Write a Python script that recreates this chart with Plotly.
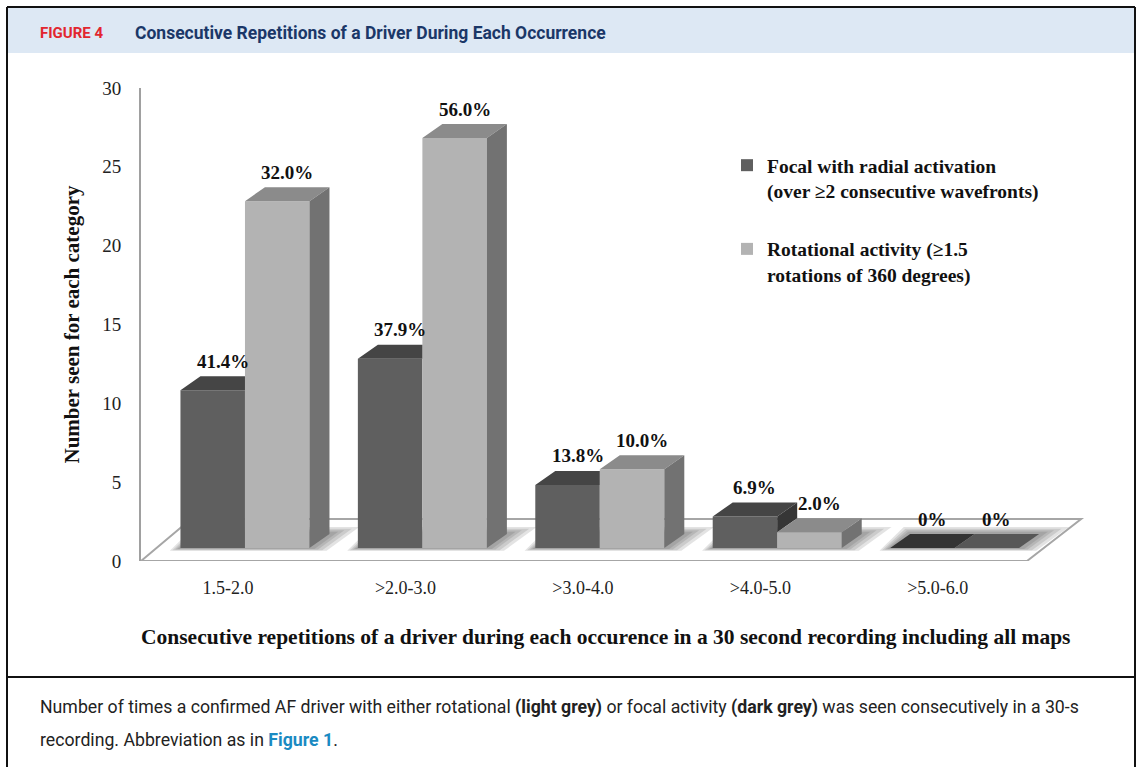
import plotly.graph_objects as go

# ---------------- data ----------------
categories = ["1.5-2.0", ">2.0-3.0", ">3.0-4.0", ">4.0-5.0", ">5.0-6.0"]
focal_counts = [10, 12, 4, 2, 0]
rotational_counts = [22, 26, 5, 1, 0]
focal_pct = ["41.4%", "37.9%", "13.8%", "6.9%", "0%"]
rotational_pct = ["32.0%", "56.0%", "10.0%", "2.0%", "0%"]
series_names = ["Focal with radial activation<br>(over \u22652 consecutive wavefronts)",
                "Rotational activity (\u22651.5<br>rotations of 360 degrees)"]
y_ticks = [0, 5, 10, 15, 20, 25, 30]

# ---------------- styling / geometry ----------------
W = 0.3636          # bar width (category units)
DX = 0.1127         # 3D depth offset in x units
DY = 0.888          # 3D depth offset in y units
BASE = 0.824        # bars stand on middle of the floor
X_RANGE = [-0.586, 4.763]
Y_RANGE = [0, 30]

DARK_FRONT, DARK_TOP, DARK_SIDE = "#5f5f5f", "#454545", "#363636"
LIGHT_FRONT, LIGHT_TOP, LIGHT_SIDE = "#b3b3b3", "#8b8b8b", "#727272"
DARK_FLAT, LIGHT_FLAT = "#333333", "#575757"
SERIF = "Liberation Serif, Times New Roman, serif"
SANS = "Roboto, Open Sans, sans-serif"

n = len(categories)
xs = list(range(n))
dark_x = [i - W / 2 for i in xs]
light_x = [i + W / 2 for i in xs]

fig = go.Figure()

# front faces
fig.add_trace(go.Bar(x=dark_x, y=focal_counts, base=BASE, width=W,
                     marker=dict(color=DARK_FRONT, line=dict(width=0)),
                     name=series_names[0], legendgroup="a", hoverinfo="skip"))
fig.add_trace(go.Bar(x=light_x, y=rotational_counts, base=BASE, width=W,
                     marker=dict(color=LIGHT_FRONT, line=dict(width=0)),
                     name=series_names[1], legendgroup="b", hoverinfo="skip"))


def poly_trace(px, py, color):
    return go.Scatter(x=px, y=py, mode="lines", fill="toself", fillcolor=color,
                      line=dict(width=0, color=color), showlegend=False,
                      hoverinfo="skip")


# dark tops (clipped where the taller light bar hides them) and visible dark sides
dtx, dty, dsx, dsy = [], [], [], []
ltx, lty, lsx, lsy = [], [], [], []
dfx, dfy, lfx, lfy = [], [], [], []
for i in xs:
    d, l = focal_counts[i], rotational_counts[i]
    x0 = dark_x[i] - W / 2
    x1 = dark_x[i] + W / 2
    x2 = light_x[i] + W / 2
    td = BASE + d
    tl = BASE + l
    tx, ty = (dfx, dfy) if d == 0 else (dtx, dty)
    if l > d:
        tx += [x0, x0 + DX, x1, x1, None]
        ty += [td, td + DY, td + DY, td, None]
    else:
        tx += [x0, x0 + DX, x1 + DX, x1, None]
        ty += [td, td + DY, td + DY, td, None]
        if d > l:
            dsx += [x1, x1, x1 + DX, x1 + DX, None]
            dsy += [tl, td, td + DY, tl + DY, None]
    tx, ty = (lfx, lfy) if l == 0 else (ltx, lty)
    tx += [x1, x1 + DX, x2 + DX, x2, None]
    ty += [tl, tl + DY, tl + DY, tl, None]
    if l > 0:
        lsx += [x2, x2, x2 + DX, x2 + DX, None]
        lsy += [BASE, tl, tl + DY, BASE + DY, None]

fig.add_trace(poly_trace(dtx, dty, DARK_TOP))
if dfx:
    fig.add_trace(poly_trace(dfx, dfy, DARK_FLAT))
if dsx:
    fig.add_trace(poly_trace(dsx, dsy, DARK_SIDE))
fig.add_trace(poly_trace(ltx, lty, LIGHT_TOP))
if lfx:
    fig.add_trace(poly_trace(lfx, lfy, LIGHT_FLAT))
fig.add_trace(poly_trace(lsx, lsy, LIGHT_SIDE))

shapes = []
# floor
fl = [(X_RANGE[0], 0), (n - 1 + 0.408, 0), (n - 1 + 0.713, 2.664), (-0.304, 2.664)]
shapes.append(dict(type="path", xref="x", yref="y", layer="below",
                   path="M " + " L ".join(f"{a},{b}" for a, b in fl) + " Z",
                   fillcolor="#ffffff", line=dict(color="#a6a6a6", width=2)))
# soft shadows around bar footprints
for i in xs:
    x0 = dark_x[i] - W / 2
    x2 = light_x[i] + W / 2
    for k, (px_, py_) in enumerate([(0.12, 0.45), (0.09, 0.34), (0.06, 0.24), (0.035, 0.14)]):
        pts = [(x0 - px_ * 0.5, BASE - py_ * 0.4), (x2 + px_ * 0.8, BASE - py_ * 0.4),
               (x2 + DX + px_ * 1.4, BASE + DY + py_), (x0 + DX - px_ * 0.3, BASE + DY + py_)]
        shapes.append(dict(type="path", xref="x", yref="y", layer="below",
                           path="M " + " L ".join(f"{a},{b}" for a, b in pts) + " Z",
                           fillcolor="rgba(70,70,70,0.15)", line=dict(width=0)))

# value labels
annotations = []
for i in xs:
    for cx, v, txt in [(dark_x[i], focal_counts[i], focal_pct[i]),
                       (light_x[i], rotational_counts[i], rotational_pct[i])]:
        annotations.append(dict(x=cx + DX * 0.5, y=BASE + v + DY, xref="x", yref="y",
                                text=f"<b>{txt}</b>", showarrow=False, yanchor="middle",
                                yshift=15, font=dict(family=SERIF, size=19, color="#111")))


def PX(p):
    return (p - 141) / 949


def PY(p):
    return (561 - p) / 473


# page decorations: header band, border, separator
shapes.append(dict(type="rect", xref="paper", yref="paper", x0=PX(8), x1=PX(1135),
                   y0=PY(53), y1=PY(8), fillcolor="#dde8f4", line=dict(width=0), layer="below"))
for (a, b, c, d) in [(7, 7, 7, 800), (1135, 7, 1135, 800), (7, 7, 1135, 7), (7, 677, 1135, 677)]:
    shapes.append(dict(type="line", xref="paper", yref="paper", x0=PX(a), y0=PY(b),
                       x1=PX(c), y1=PY(d), line=dict(color="#111", width=2)))

annotations += [
    dict(x=PX(38), y=PY(33), xref="paper", yref="paper", xanchor="left", yanchor="middle",
         showarrow=False, text="<b>FIGURE 4</b>",
         font=dict(family=SANS, size=15, color="#e2262f")),
    dict(x=PX(133), y=PY(33), xref="paper", yref="paper", xanchor="left", yanchor="middle",
         showarrow=False, text="<b>Consecutive Repetitions of a Driver During Each Occurrence</b>",
         font=dict(family=SANS, size=17.5, color="#1b3768")),
    dict(x=PX(605), y=PY(637), xref="paper", yref="paper", xanchor="center", yanchor="middle",
         showarrow=False,
         text="<b>Consecutive repetitions of a driver during each occurence in a 30 second recording including all maps</b>",
         font=dict(family=SERIF, size=21.5, color="#111")),
    dict(x=PX(38), y=PY(707), xref="paper", yref="paper", xanchor="left", yanchor="middle",
         showarrow=False,
         text="Number of times a confirmed AF driver with either rotational <b>(light grey)</b> or focal activity <b>(dark grey)</b> was seen consecutively in a 30-s",
         font=dict(family=SANS, size=17.7, color="#222")),
    dict(x=PX(38), y=PY(740), xref="paper", yref="paper", xanchor="left", yanchor="middle",
         showarrow=False,
         text="recording. Abbreviation as in <b><span style='color:#1a8ac2'>Figure 1</span></b>.",
         font=dict(family=SANS, size=17.7, color="#222")),
]

fig.update_layout(
    width=1142, height=767,
    margin=dict(l=141, r=52, t=88, b=206),
    paper_bgcolor="white", plot_bgcolor="rgba(0,0,0,0)",
    barmode="overlay",
    shapes=shapes, annotations=annotations,
    showlegend=True,
    legend=dict(x=PX(727), y=PY(146), xanchor="left", yanchor="top",
                traceorder="grouped", tracegroupgap=30, valign="top",
                font=dict(family=SERIF, size=19.5, color="#111", weight="bold"),
                bgcolor="rgba(0,0,0,0)"),
    xaxis=dict(range=X_RANGE, showgrid=False, zeroline=False, showline=False,
               tickvals=[i - 0.095 for i in xs], ticktext=categories, ticks="",
               ticklabelstandoff=14,
               tickfont=dict(family=SERIF, size=18, color="#222")),
    yaxis=dict(range=Y_RANGE, showgrid=False, zeroline=False, showline=True,
               linecolor="#a0a0a0", linewidth=2, tickvals=y_ticks, ticks="",
               ticklabelstandoff=14,
               tickfont=dict(family=SERIF, size=19, color="#222"),
               title=dict(text="<b>Number seen for each category</b>", standoff=17,
                          font=dict(family=SERIF, size=21, color="#111"))),
)

fig.write_html("out.html", config={"displayModeBar": False},
               post_script="document.body.style.margin='0';")
